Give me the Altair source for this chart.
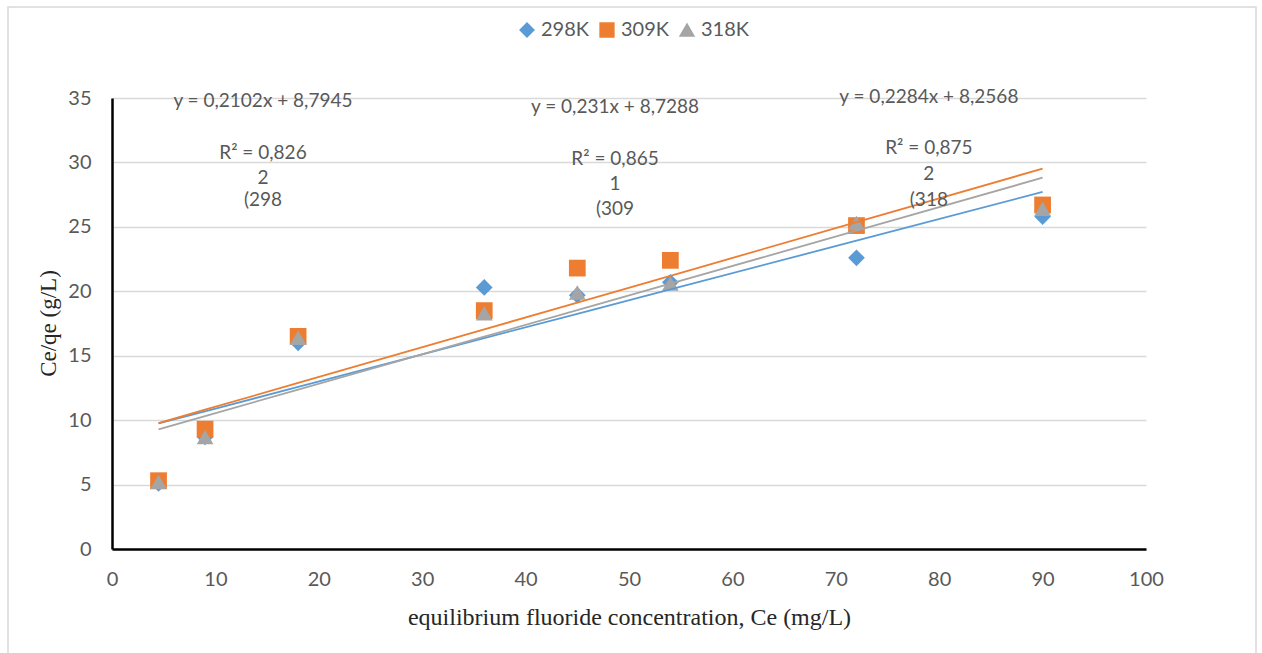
import altair as alt
import pandas as pd

# ---- data ----
ce = [4.5, 9, 18, 36, 45, 54, 72, 90]
series = ["298K", "309K", "318K"]
y_298 = [5.1, 8.7, 16.0, 20.3, 19.7, 20.7, 22.6, 25.8]
y_309 = [5.3, 9.3, 16.5, 18.5, 21.8, 22.4, 25.1, 26.7]
y_318 = [5.2, 8.7, 16.4, 18.3, 19.9, 20.6, 25.3, 26.4]
slopes = [0.2102, 0.231, 0.2284]
intercepts = [8.7945, 8.7288, 8.2568]
colors = ["#5B9BD5", "#ED7D31", "#A5A5A5"]
shapes = ["diamond", "square", "triangle-up"]

# annotation texts (as shown, in Excel's truncated form)
ann_text = [
    "y = 0,2102x + 8,7945", "R² = 0,826", "2", "(298",
    "y = 0,231x + 8,7288", "R² = 0,865", "1", "(309",
    "y = 0,2284x + 8,2568", "R² = 0,875", "2", "(318",
]
ann_x = [14.6] * 4 + [48.65] * 4 + [79.0] * 4
ann_y = [34.77, 30.73, 28.79, 27.08,
         34.3, 30.27, 28.33, 26.39,
         35.1, 31.12, 29.1, 27.08]

rows = []
for s, ys, m, b, order in zip(series, [y_298, y_309, y_318], slopes, intercepts, range(3)):
    for x, y in zip(ce, ys):
        rows.append({"series": s, "Ce": x, "val": y, "slope": m, "icpt": b, "order": order})
df = pd.DataFrame(rows)
ann = pd.DataFrame({"text": ann_text, "x": ann_x, "y": ann_y})

W, H = 1034, 451
xs = alt.Scale(domain=[0, 100], nice=False)
ys = alt.Scale(domain=[0, 35], nice=False)

leg = dict(title=None, orient="none", direction="horizontal",
           legendX=405, legendY=-78,
           labelFont="Lato", labelFontSize=20, labelColor="#595959",
           symbolSize=190, labelOffset=4, columnPadding=7)

color = alt.Color("series:N", scale=alt.Scale(domain=series, range=colors),
                  legend=alt.Legend(**leg))
shape = alt.Shape("series:N", scale=alt.Scale(domain=series, range=shapes),
                  legend=alt.Legend(**leg))

frame = alt.Chart(alt.Data(values=[{}])).mark_rect(
    fill=None, stroke="#D9D9D9", strokeWidth=1.5
).encode(x=alt.value(8 - 112), x2=alt.value(1256 - 112),
         y=alt.value(7 - 98), y2=alt.value(700))

base = alt.Chart(df)

points = base.mark_point(filled=True, size=280, opacity=1).encode(
    x=alt.X("Ce:Q", scale=xs,
            axis=alt.Axis(values=list(range(0, 101, 10)), grid=False, ticks=False,
                          domainColor="#000000", domainWidth=2.5, labelFlush=False,
                          labelFont="Lato", labelFontSize=20, labelColor="#595959",
                          labelPadding=20,
                          title="equilibrium fluoride concentration, Ce (mg/L)",
                          titleFont="Liberation Serif", titleFontSize=24, titleFontWeight="normal",
                          titleColor="#262626", titleY=68, titleBaseline="middle")),
    y=alt.Y("val:Q", scale=ys,
            axis=alt.Axis(values=list(range(0, 36, 5)), grid=True, gridColor="#D9D9D9",
                          gridWidth=1.5, ticks=False, domainColor="#000000", domainWidth=2.5,
                          labelFont="Lato", labelFontSize=20, labelColor="#595959",
                          labelPadding=21,
                          title="Ce/qe (g/L)", titleFont="Liberation Serif", titleFontSize=23,
                          titleFontWeight="normal", titleColor="#262626",
                          titleX=-64, titleY=225, titleBaseline="middle", titleAlign="center")),
    color=color,
    shape=shape,
    order=alt.Order("order:Q"),
)

lines = base.transform_calculate(fit="datum.slope * datum.Ce + datum.icpt").mark_line(
    strokeWidth=1.8
).encode(
    x=alt.X("Ce:Q", scale=xs),
    y=alt.Y("fit:Q", scale=ys),
    color=alt.Color("series:N", scale=alt.Scale(domain=series, range=colors), legend=None),
    detail="series:N",
)

labels = alt.Chart(ann).mark_text(
    font="Lato", fontSize=19, color="#595959", align="center", baseline="middle"
).encode(x=alt.X("x:Q", scale=xs), y=alt.Y("y:Q", scale=ys), text="text:N")

chart = alt.layer(frame, points, lines, labels).properties(
    width=W, height=H,
    autosize=alt.AutoSizeParams(type="none"),
    padding={"left": 112, "top": 98, "right": 116, "bottom": 104},
    background="white",
).configure_view(stroke=None).resolve_scale(color="shared", shape="shared")

chart.save("out.html", embed_options={"renderer": "svg", "actions": False})
